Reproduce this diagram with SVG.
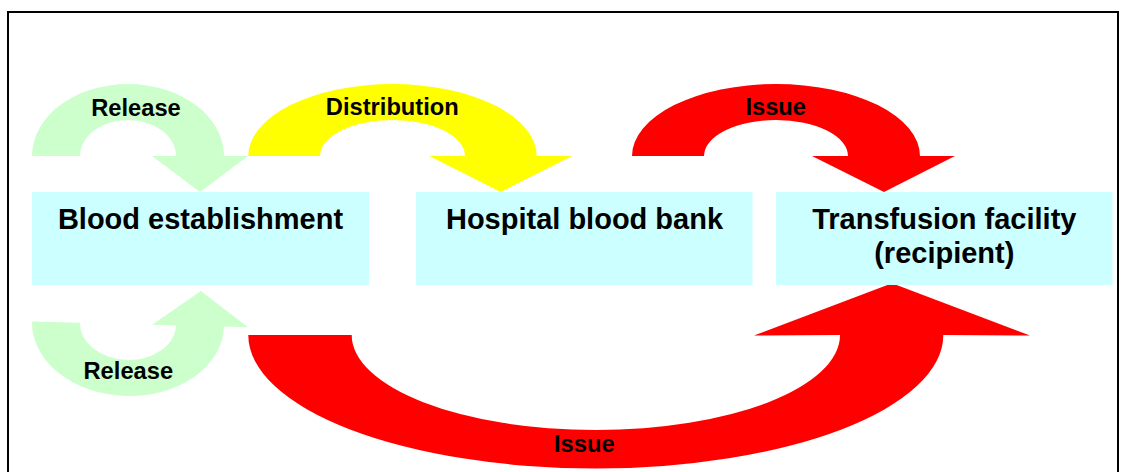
<svg xmlns="http://www.w3.org/2000/svg" width="1124" height="472" viewBox="0 0 1124 472">
<style>
.box{fill:#CCFFFF}
.node-text{font-family:"Liberation Sans",Arial,sans-serif;font-weight:bold;font-size:29px;fill:#000;text-anchor:middle}
.label{font-family:"Liberation Sans",Arial,sans-serif;font-weight:bold;font-size:23.7px;fill:#000;text-anchor:middle}
.green{fill:#CCFFCC}
.yellow{fill:#FFFF00}
.red{fill:#FF0000}
</style>
<rect width="1124" height="472" fill="#FFFFFF"/>
<rect x="8" y="12" width="1110" height="470" fill="none" stroke="#000" stroke-width="2"/>
<g id="connectors">
  <g id="release-top">
    <path class="green" d="M 32,156 A 96,72 0 0 1 224,156 L 248,156 L 200,192 L 152,156 L 176,156 A 48,36 0 0 0 80,156 Z"/>
    <text class="label" x="136" y="116">Release</text>
  </g>
  <g id="distribution">
    <path class="yellow" d="M 248.3,156 A 144.2,72 0 0 1 536.7,156 L 572,156 L 500.7,192 L 429.3,156 L 465,156 A 72.5,36 0 0 0 320,156 Z"/>
    <text class="label" x="392.3" y="115">Distribution</text>
  </g>
  <g id="issue-top">
    <path class="red" d="M 632,156 A 144,72 0 0 1 920,156 L 955,156 L 884,192 L 812,156 L 848,156 A 72,36 0 0 0 704,156 Z"/>
    <text class="label" x="775.7" y="115">Issue</text>
  </g>
  <g id="release-bottom">
    <path class="green" transform="rotate(1.5 128 324)" d="M 32,324 A 96,72 0 0 0 224,324 L 248,324 L 200,289 L 152,324 L 176,324 A 48,36 0 0 1 80,324 Z"/>
    <text class="label" x="128.3" y="379.3">Release</text>
  </g>
  <g id="issue-bottom">
    <path class="red" d="M 248.3,335 A 347.5,133.5 0 0 0 943.3,335 L 1030,335.5 L 892,283.3 L 754,335.5 L 840,335 A 244.15,95 0 0 1 351.7,335 Z"/>
    <text class="label" x="584.3" y="452.3">Issue</text>
  </g>
</g>
<g id="blood-establishment">
  <rect class="box" x="32" y="192" width="337" height="93"/>
  <text class="node-text" x="200.5" y="228.5">Blood establishment</text>
</g>
<g id="hospital-blood-bank">
  <rect class="box" x="416" y="192" width="336.5" height="93"/>
  <text class="node-text" x="584.5" y="228.5">Hospital blood bank</text>
</g>
<g id="transfusion-facility">
  <rect class="box" x="776" y="192" width="336.5" height="93"/>
  <text class="node-text" x="944.3" y="228.5">Transfusion facility</text>
  <text class="node-text" x="944.3" y="262.5">(recipient)</text>
</g>
</svg>
